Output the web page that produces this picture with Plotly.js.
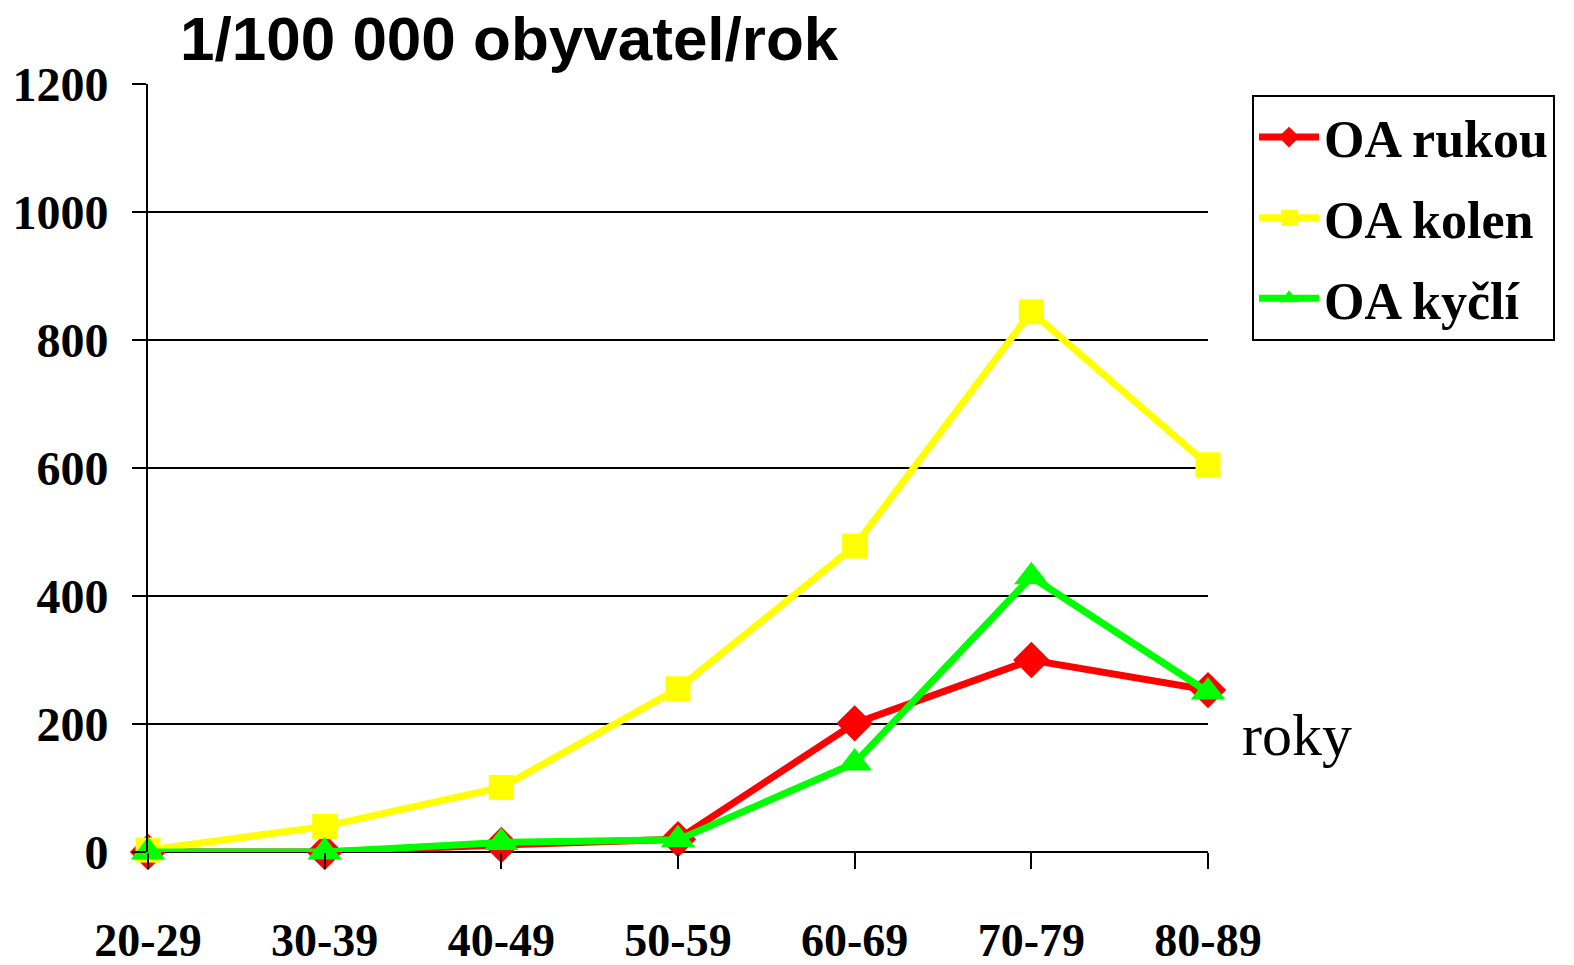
<!DOCTYPE html>
<html><head><meta charset="utf-8">
<script src="https://cdn.plot.ly/plotly-3.0.1.min.js"></script>
<style>html,body{margin:0;padding:0;background:#fff}#chart{width:1574px;height:965px}</style>
</head><body><div id="chart"></div>
<script>
const categories = ["20-29","30-39","40-49","50-59","60-69","70-79","80-89"];
const seriesNames = ["OA rukou","OA kolen","OA kyčlí"];
const rukou = [0, 0, 11, 20, 201, 300, 253];
const kolen = [3, 40, 101, 255, 478, 844, 605];
const kycli = [0, 0, 15, 19, 139, 430, 250];
const yTicks = [0,200,400,600,800,1000,1200];

const serif = "Liberation Serif, Times New Roman, serif";
const traces = [
  {x: categories, y: rukou, name: seriesNames[0], mode: "lines+markers", legendgroup: "a", cliponaxis: false,
   line: {color: "#ff0000", width: 7}, marker: {symbol: "diamond", size: 28, color: "#ff0000"}},
  {x: categories, y: kolen, name: seriesNames[1], mode: "lines+markers", legendgroup: "b", cliponaxis: false,
   line: {color: "#ffff00", width: 7}, marker: {symbol: "square", size: 25, color: "#ffff00"}},
  {x: categories, y: kycli, name: seriesNames[2], mode: "lines+markers", legendgroup: "c", cliponaxis: false,
   line: {color: "#00ff00", width: 7}, marker: {symbol: "triangle-up", size: 30, color: "#00ff00"}}
];
const layout = {
  width: 1574, height: 965,
  margin: {l: 148, r: 366, t: 84, b: 113},
  paper_bgcolor: "#fff", plot_bgcolor: "#fff",
  showlegend: true,
  legend: {x: 1.0415, y: 0.986, xanchor: "left", yanchor: "top",
    bordercolor: "#000", borderwidth: 2, bgcolor: "#fff",
    traceorder: "grouped",
    font: {family: serif, size: 52, color: "#000", weight: "bold"},
    tracegroupgap: 10, itemwidth: 60},
  title: {text: "<b>1/100 000 obyvatel/rok</b>", x: 180/1574, xanchor: "left", y: 1-38/965, yanchor: "middle",
    font: {family: "Liberation Sans, Arial, sans-serif", size: 62, color: "#000"}},
  xaxis: {type: "category", range: [0, 6], showgrid: false, zeroline: false,
    showline: false, ticks: "outside", ticklen: 16, tickwidth: 2, tickcolor: "#000",
    ticklabelstandoff: 32,
    tickfont: {family: serif, size: 46, color: "#000", weight: "bold"}},
  yaxis: {range: [0, 1200], tickvals: yTicks, ticktext: yTicks.map(String),
    showgrid: true, gridcolor: "#000", gridwidth: 2, zeroline: true, zerolinecolor: "#000", zerolinewidth: 2,
    showline: true, linecolor: "#000", linewidth: 2,
    ticks: "outside", ticklen: 14, tickwidth: 2, tickcolor: "#000", ticklabelstandoff: 14,
    tickfont: {family: serif, size: 48, color: "#000", weight: "bold"}},
  annotations: [{text: "roky", xref: "paper", yref: "paper", x: (1240-148)/1060, y: (852-735)/768,
    xanchor: "left", yanchor: "middle", showarrow: false,
    font: {family: serif, size: 60, color: "#000"}}]
};
Plotly.newPlot("chart", traces, layout, {displayModeBar: false, staticPlot: true});
</script></body></html>
